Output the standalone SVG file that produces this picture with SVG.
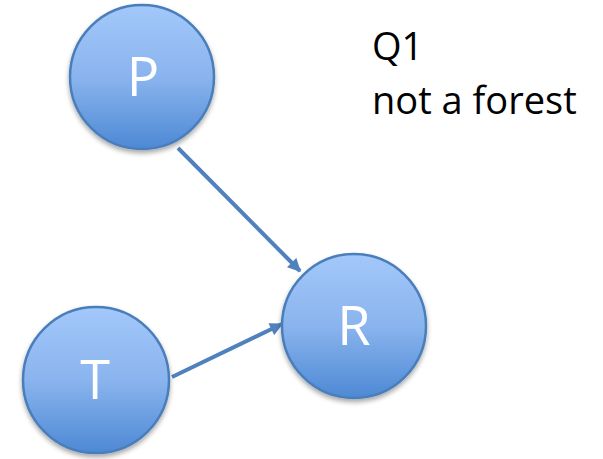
<svg xmlns="http://www.w3.org/2000/svg" width="603" height="459" viewBox="0 0 603 459">
  <style>
    .node circle { fill: url(#g); stroke: #4A7EBB; stroke-width: 2.5; filter: url(#sh); }
    .node text { font-family: "Open Sans", "Liberation Sans", sans-serif; font-size: 54px; fill: #ffffff; text-anchor: middle; }
    .lbl { font-family: "Open Sans", "Liberation Sans", sans-serif; font-size: 38px; fill: #000000; }
    .edge { stroke: #4F81BD; stroke-width: 4; fill: none; marker-end: url(#ah); }
  </style>
  <defs>
    <linearGradient id="g" x1="0" y1="0" x2="0" y2="1">
      <stop offset="0" stop-color="#A3C8FA"/>
      <stop offset="0.5" stop-color="#8AB4EE"/>
      <stop offset="1" stop-color="#4D89D4"/>
    </linearGradient>
    <filter id="sh" x="-20%" y="-20%" width="140%" height="150%">
      <feGaussianBlur in="SourceAlpha" stdDeviation="2.5"/>
      <feOffset dx="0" dy="3" result="b"/>
      <feComponentTransfer><feFuncA type="linear" slope="0.35"/></feComponentTransfer>
      <feMerge><feMergeNode/><feMergeNode in="SourceGraphic"/></feMerge>
    </filter>
    <marker id="ah" viewBox="0 0 10 10" refX="9" refY="5" markerWidth="3.6" markerHeight="3.3" orient="auto" markerUnits="strokeWidth">
      <path d="M0,0 L10,5 L0,10 z" fill="#4F81BD"/>
    </marker>
  </defs>
  <g id="connectors">
    <line class="edge" x1="178" y1="148" x2="300" y2="271"/>
    <line class="edge" x1="172" y1="377" x2="282" y2="324"/>
  </g>
  <g id="node-P" class="node">
    <circle cx="142" cy="77" r="72"/>
    <text x="143" y="96">P</text>
  </g>
  <g id="node-R" class="node">
    <circle cx="354" cy="326" r="72"/>
    <text x="354" y="345">R</text>
  </g>
  <g id="node-T" class="node">
    <circle cx="96" cy="380" r="73"/>
    <text x="95" y="399">T</text>
  </g>
  <g id="label">
    <text class="lbl" x="372" y="60">Q1</text>
    <text class="lbl" x="372" y="114">not a forest</text>
  </g>
</svg>
